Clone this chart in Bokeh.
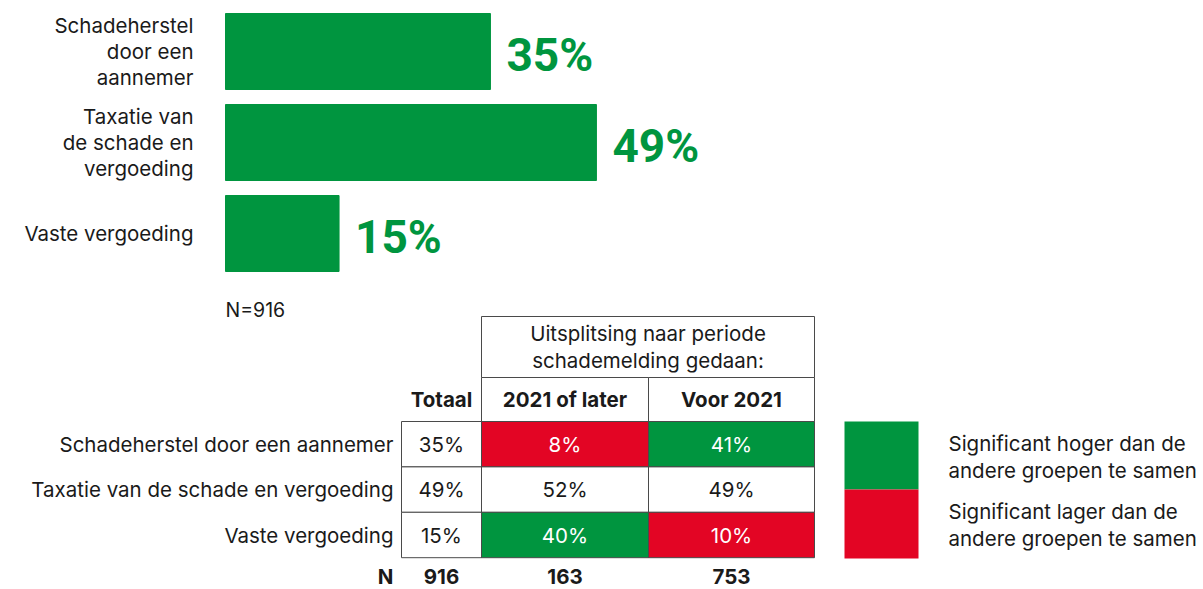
from bokeh.plotting import figure
from bokeh.models import Range1d
from bokeh.embed import file_html
from bokeh.resources import INLINE
from bokeh.core.properties import value

# ---------------- data ----------------
categories = ["Schadeherstel door een aannemer",
              "Taxatie van de schade en vergoeding",
              "Vaste vergoeding"]
bar_labels = ["Schadeherstel\ndoor een\naannemer",
              "Taxatie van\nde schade en\nvergoeding",
              "Vaste vergoeding"]
bar_values = [35, 49, 15]
n_total_label = "N=916"

table_header = "Uitsplitsing naar periode\nschademelding gedaan:"
col_names = ["Totaal", "2021 of later", "Voor 2021"]
totaal = [35, 49, 15]
later_2021 = [8, 52, 40]
voor_2021 = [41, 49, 10]
sig_later = ["low", "", "high"]
sig_voor = ["high", "", "low"]
n_values = [916, 163, 753]
legend_labels = ["Significant hoger dan de\nandere groepen te samen",
                 "Significant lager dan de\nandere groepen te samen"]

GREEN = "#00953F"
RED = "#E30524"
TXT = "#1a1a1a"
FONT = "Inter"
FS = "20.5px"
W, H = 1203, 589

p = figure(width=W, height=H, output_backend="svg", toolbar_location=None,
           x_range=Range1d(0, W), y_range=Range1d(H, 0),
           x_axis_location=None, y_axis_location=None, min_border=0)
p.outline_line_color = None
p.xgrid.visible = False
p.ygrid.visible = False

# ---------------- bar chart (percent scale) ----------------
BAR_X0, PX_PER_PCT = 225, 7.57
BAR_Y0, BAR_PITCH, BAR_H = 51, 91, 76
p.extra_x_ranges = {"pct": Range1d((0 - BAR_X0) / PX_PER_PCT, (W - BAR_X0) / PX_PER_PCT)}
p.extra_y_ranges = {"bar": Range1d((H - BAR_Y0) / BAR_PITCH, (0 - BAR_Y0) / BAR_PITCH)}
idx = list(range(len(bar_values)))
p.hbar(y=idx, left=0, right=bar_values, height=BAR_H / BAR_PITCH, color=GREEN,
       x_range_name="pct", y_range_name="bar")
p.text(x=bar_values, y=idx, text=[f"{v}%" for v in bar_values], x_offset=16, y_offset=3,
       x_range_name="pct", y_range_name="bar", text_font=value("Roboto"),
       text_font_style="bold", text_font_size="46px", text_color=GREEN,
       text_baseline="middle", text_align="left")

lx, ly, lt = [], [], []
for i, lab in enumerate(bar_labels):
    lines = lab.split("\n")
    for j, ln in enumerate(lines):
        lx.append(0)
        ly.append(i + (j - (len(lines) - 1) / 2) * 26 / BAR_PITCH)
        lt.append(ln)
p.text(x=lx, y=ly, text=lt, x_offset=-32, x_range_name="pct", y_range_name="bar",
       text_font=value(FONT), text_font_size=FS, text_color=TXT,
       text_baseline="middle", text_align="right")
p.text(x=[0], y=[len(bar_values) - 0.25], text=[n_total_label], x_range_name="pct",
       y_range_name="bar", y_offset=8, text_font=value(FONT), text_font_size="19.5px",
       text_color=TXT, text_baseline="middle", text_align="left")

# ---------------- table ----------------
col_x = [401, 481, 648, 814]
row_top, row_h = 421, 45.4
LINE = "#4a4a4a"
fillmap = {"high": GREEN, "low": RED, "": "white"}

# header boxes
p.quad(left=[col_x[1]], right=[col_x[3]], top=[316], bottom=[377],
       fill_color="white", line_color=LINE, line_width=1)
p.quad(left=col_x[1:3], right=col_x[2:4], top=[377, 377], bottom=[421, 421],
       fill_color="white", line_color=LINE, line_width=1)
hl = table_header.split("\n")
p.text(x=[(col_x[1] + col_x[3]) / 2] * 2, y=[333, 360], text=hl,
       text_font=value(FONT), text_font_size=FS, text_color=TXT,
       text_baseline="middle", text_align="center")
p.text(x=[(col_x[k] + col_x[k + 1]) / 2 for k in range(3)], y=[399] * 3, text=col_names,
       text_font=value(FONT), text_font_style="bold", text_font_size=FS,
       text_color=TXT, text_baseline="middle", text_align="center")

cols = [(totaal, [""] * 3), (later_2021, sig_later), (voor_2021, sig_voor)]
for k, (vals, sig) in enumerate(cols):
    tops = [row_top + r * row_h for r in range(len(vals))]
    p.quad(left=col_x[k], right=col_x[k + 1], top=tops,
           bottom=[t + row_h for t in tops],
           fill_color=[fillmap[s] for s in sig], line_color=LINE, line_width=1)
    p.text(x=[(col_x[k] + col_x[k + 1]) / 2] * len(vals),
           y=[t + row_h / 2 for t in tops], text=[f"{v}%" for v in vals],
           text_font=value(FONT), text_font_size=FS,
           text_color=["white" if s else TXT for s in sig],
           text_baseline="middle", text_align="center")

p.text(x=[393] * len(categories), y=[row_top + (r + 0.5) * row_h for r in range(len(categories))],
       text=categories, text_font=value(FONT), text_font_size=FS, text_color=TXT,
       text_baseline="middle", text_align="right")

# N row
NY = 576
p.text(x=[393], y=[NY], text=["N"], text_font=value(FONT), text_font_style="bold",
       text_font_size=FS, text_color=TXT, text_baseline="middle", text_align="right")
p.text(x=[(col_x[k] + col_x[k + 1]) / 2 for k in range(3)], y=[NY] * 3,
       text=[str(n) for n in n_values], text_font=value(FONT), text_font_style="bold",
       text_font_size=FS, text_color=TXT, text_baseline="middle", text_align="center")

# ---------------- legend ----------------
p.quad(left=[844, 844], right=[918, 918], top=[421, 489], bottom=[489, 558],
       fill_color=[GREEN, RED], line_color=None)
gx, gy, gt = [], [], []
for i, lab in enumerate(legend_labels):
    for j, ln in enumerate(lab.split("\n")):
        gx.append(948)
        gy.append(443 + i * 68 + j * 27)
        gt.append(ln)
p.text(x=gx, y=gy, text=gt, text_font=value(FONT), text_font_size=FS, text_color=TXT,
       text_baseline="middle", text_align="left")

open("out.html", "w").write(file_html(p, INLINE))
